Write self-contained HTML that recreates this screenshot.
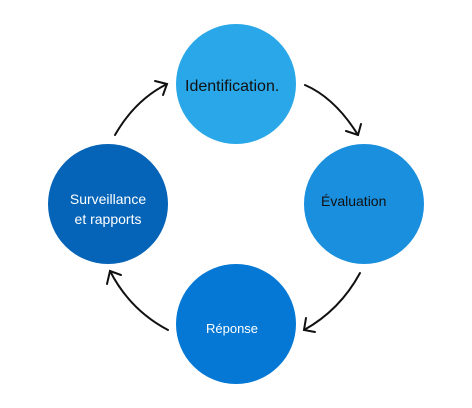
<!DOCTYPE html>
<html><head><style>
html,body{margin:0;padding:0;background:#fff;}
svg{display:block;}
text{font-family:"Liberation Sans",sans-serif;}
</style></head><body>
<svg width="472" height="408" viewBox="0 0 472 408" xmlns="http://www.w3.org/2000/svg">
<circle cx="236" cy="84" r="60" fill="#2aa7e8"/>
<circle cx="364" cy="204" r="60" fill="#1a8fde"/>
<circle cx="236" cy="324" r="60" fill="#0478d4"/>
<circle cx="108" cy="204" r="60" fill="#0564b7"/>
<g fill="none" stroke="#111" stroke-width="2" stroke-linecap="round">
<path d="M115 135 Q135 100 167 84"/>
<path d="M155 81 L167 84 L163 95"/>
<path d="M305 85 Q335 98 358 135"/>
<path d="M346 131 L358 135 L361 124"/>
<path d="M360 273 Q340 310 304 330"/>
<path d="M306 318 L304 330 L315 332"/>
<path d="M168 330 Q130 310 110 271"/>
<path d="M107 284 L110 271 L121 275"/>
</g>
<text x="185" y="91" font-size="16" fill="#111">Identification.</text>
<text x="321" y="206" font-size="14" fill="#111">Évaluation</text>
<text x="206" y="333" font-size="13" fill="#fff">Réponse</text>
<text x="108" y="204" font-size="14" fill="#fff" text-anchor="middle">Surveillance</text>
<text x="108" y="224" font-size="14" fill="#fff" text-anchor="middle">et rapports</text>
</svg>
</body></html>
